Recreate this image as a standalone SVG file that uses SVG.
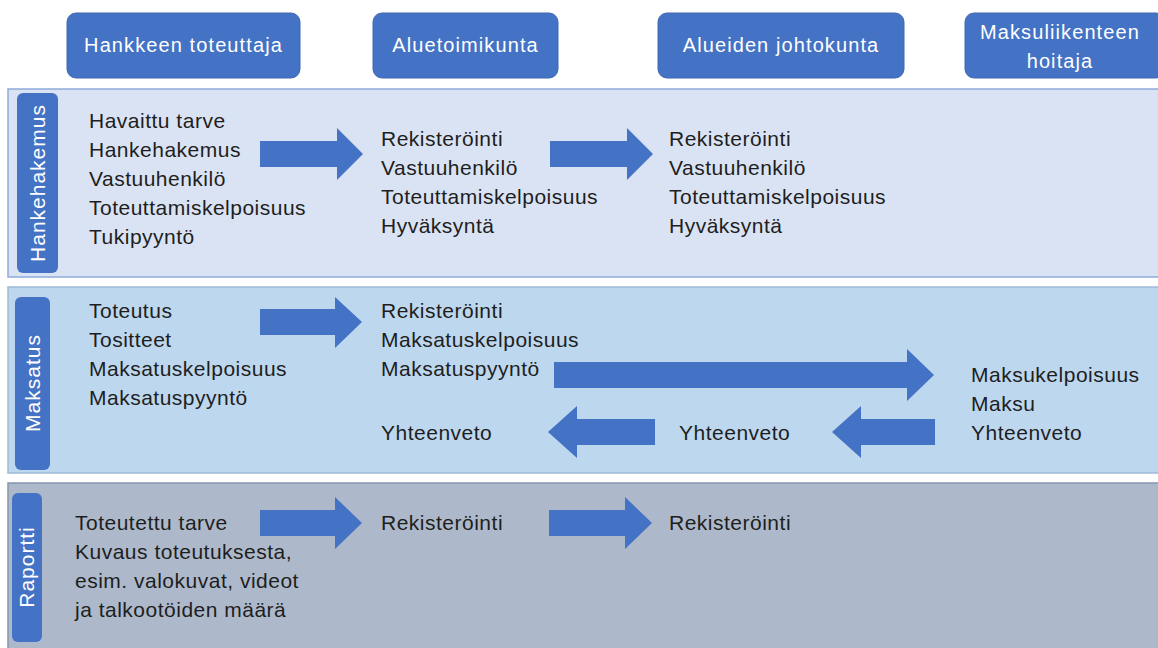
<svg xmlns="http://www.w3.org/2000/svg" width="1158" height="648" viewBox="0 0 1158 648">
<style>
.hdr{fill:#4472c4;stroke:#3e68b2;stroke-width:1}
.hdrt{font-family:"Liberation Sans",Arial,sans-serif;font-size:20px;fill:#ffffff;text-anchor:middle;letter-spacing:1.1px}
.lbl{fill:#4472c4}
.lblt{font-family:"Liberation Sans",Arial,sans-serif;font-size:21px;fill:#ffffff;text-anchor:middle;letter-spacing:1px}
.t{font-family:"Liberation Sans",Arial,sans-serif;font-size:21px;fill:#1e1e1e;letter-spacing:0.5px}
.arr{fill:#4472c4}
</style>
<rect width="1158" height="648" fill="#ffffff"/>
<g id="header-toteuttaja"><rect class="hdr" x="67" y="13" width="233" height="65" rx="9"/><text class="hdrt" x="183.5" y="52">Hankkeen toteuttaja</text></g>
<g id="header-aluetoimikunta"><rect class="hdr" x="373" y="13" width="185" height="65" rx="9"/><text class="hdrt" x="465.5" y="52">Aluetoimikunta</text></g>
<g id="header-johtokunta"><rect class="hdr" x="658" y="13" width="246" height="65" rx="9"/><text class="hdrt" x="781" y="52">Alueiden johtokunta</text></g>
<g id="header-maksuliikenne"><rect class="hdr" x="965" y="13" width="200" height="65" rx="9"/><text class="hdrt" x="1060" y="39">Maksuliikenteen</text><text class="hdrt" x="1060" y="68">hoitaja</text></g>

<g id="band-hankehakemus">
<rect x="8" y="89" width="1160" height="188" fill="#dae3f3" stroke="#8eaadb" stroke-width="1.5"/>
<rect class="lbl" x="17" y="93" width="41" height="180" rx="6"/>
<text class="lblt" transform="translate(45,183) rotate(-90)">Hankehakemus</text>
<text class="t" x="89" y="128">Havaittu tarve</text>
<text class="t" x="89" y="157">Hankehakemus</text>
<text class="t" x="89" y="186">Vastuuhenkilö</text>
<text class="t" x="89" y="215">Toteuttamiskelpoisuus</text>
<text class="t" x="89" y="244">Tukipyyntö</text>
<text class="t" x="381" y="146">Rekisteröinti</text>
<text class="t" x="381" y="175">Vastuuhenkilö</text>
<text class="t" x="381" y="204">Toteuttamiskelpoisuus</text>
<text class="t" x="381" y="233">Hyväksyntä</text>
<text class="t" x="669" y="146">Rekisteröinti</text>
<text class="t" x="669" y="175">Vastuuhenkilö</text>
<text class="t" x="669" y="204">Toteuttamiskelpoisuus</text>
<text class="t" x="669" y="233">Hyväksyntä</text>
</g>

<g id="band-maksatus">
<rect x="8" y="287" width="1160" height="186" fill="#bdd7ee" stroke="#9dbbd9" stroke-width="1.5"/>
<rect class="lbl" x="15" y="297" width="35" height="173" rx="6"/>
<text class="lblt" transform="translate(40,383) rotate(-90)">Maksatus</text>
<text class="t" x="89" y="318">Toteutus</text>
<text class="t" x="89" y="347">Tositteet</text>
<text class="t" x="89" y="376">Maksatuskelpoisuus</text>
<text class="t" x="89" y="405">Maksatuspyyntö</text>
<text class="t" x="381" y="318">Rekisteröinti</text>
<text class="t" x="381" y="347">Maksatuskelpoisuus</text>
<text class="t" x="381" y="376">Maksatuspyyntö</text>
<text class="t" x="381" y="440">Yhteenveto</text>
<text class="t" x="679" y="440">Yhteenveto</text>
<text class="t" x="971" y="382">Maksukelpoisuus</text>
<text class="t" x="971" y="411">Maksu</text>
<text class="t" x="971" y="440">Yhteenveto</text>
</g>

<g id="band-raportti">
<rect x="8" y="483" width="1160" height="175" fill="#adb9ca" stroke="#8497b0" stroke-width="1.5"/>
<rect class="lbl" x="12" y="493" width="30" height="149" rx="6"/>
<text class="lblt" transform="translate(34,567) rotate(-90)">Raportti</text>
<text class="t" x="75" y="530">Toteutettu tarve</text>
<text class="t" x="75" y="559">Kuvaus toteutuksesta,</text>
<text class="t" x="75" y="588">esim. valokuvat, videot</text>
<text class="t" x="75" y="617">ja talkootöiden määrä</text>
<text class="t" x="381" y="530">Rekisteröinti</text>
<text class="t" x="669" y="530">Rekisteröinti</text>
</g>

<g id="connectors">
<polygon class="arr" points="260,141 337,141 337,128 363,154 337,180 337,167 260,167"/>
<polygon class="arr" points="550,141 627,141 627,128 653,154 627,180 627,167 550,167"/>
<polygon class="arr" points="260,309 335,309 335,297 362,322 335,348 335,335 260,335"/>
<polygon class="arr" points="554,362 907,362 907,349 934,375 907,401 907,388 554,388"/>
<polygon class="arr" points="655,419 577,419 577,406 548,432 577,458 577,445 655,445"/>
<polygon class="arr" points="935,419 861,419 861,406 832,432 861,458 861,445 935,445"/>
<polygon class="arr" points="260,510 335,510 335,497 362,523 335,549 335,536 260,536"/>
<polygon class="arr" points="549,510 625,510 625,497 652,523 625,549 625,536 549,536"/>
</g>
</svg>
